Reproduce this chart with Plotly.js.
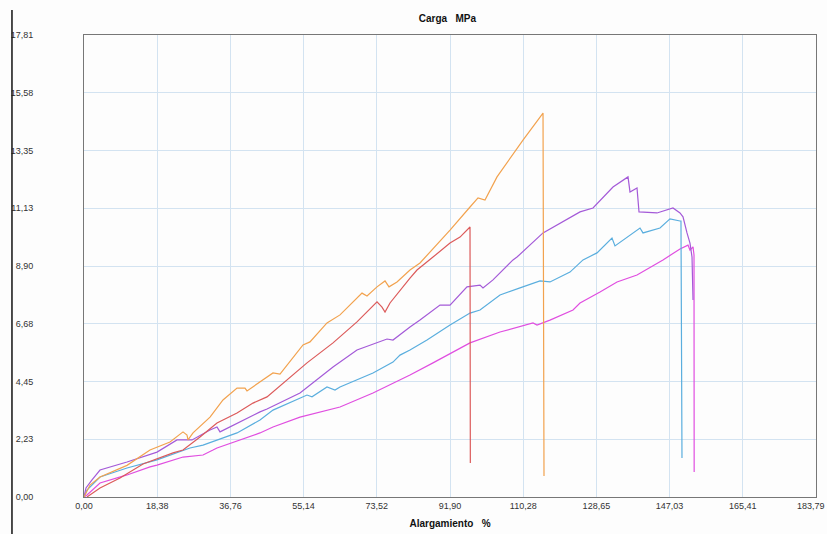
<!DOCTYPE html>
<html>
<head>
<meta charset="utf-8">
<script src="https://cdn.plot.ly/plotly-3.0.1.min.js"></script>
<style>html,body{margin:0;padding:0;background:#fdfdfd;}#chart{width:827px;height:534px;}</style>
</head>
<body>
<div id="chart"></div>
<script>
// Tick values and labels
const xTickVals = [0, 18.38, 36.76, 55.14, 73.52, 91.90, 110.28, 128.65, 147.03, 165.41, 183.79];
const xTickText = ["0,00", "18,38", "36,76", "55,14", "73,52", "91,90", "110,28", "128,65", "147,03", "165,41", "183,79"];
const yTickVals = [0, 2.23, 4.45, 6.68, 8.90, 11.13, 13.35, 15.58, 17.81];
const yTickText = ["0,00", "2,23", "4,45", "6,68", "8,90", "11,13", "13,35", "15,58", "17,81"];

// Series: Alargamiento (%) vs Carga (MPa)
const orangeX = [0, 1.51, 4.02, 10.80, 16.57, 21.59, 24.86, 25.86, 26.11, 27.37, 31.64, 34.90, 38.42, 40.42, 40.93, 44.19, 47.45, 49.21, 54.99, 56.74, 61.01, 64.28, 69.80, 71.06, 73.57, 75.58, 76.58, 78.59, 81.85, 84.36, 91.90, 96.92, 98.93, 100.68, 103.70, 110.22, 115.25, 115.50];
const orangeY = [0, 0.46, 0.77, 1.22, 1.81, 2.12, 2.51, 2.39, 2.20, 2.47, 3.08, 3.74, 4.20, 4.20, 4.09, 4.43, 4.78, 4.74, 5.86, 5.98, 6.71, 7.02, 7.86, 7.75, 8.10, 8.33, 8.10, 8.29, 8.75, 9.02, 10.29, 11.18, 11.53, 11.45, 12.34, 13.76, 14.80, 0.81];

const redX = [0.75, 4.02, 9.04, 14.81, 22.35, 24.86, 29.13, 33.39, 38.42, 42.43, 45.95, 49.96, 54.23, 55.99, 62.52, 68.54, 73.57, 74.82, 75.58, 76.83, 81.85, 83.61, 87.63, 91.90, 94.41, 96.92, 97.00];
const redY = [0, 0.35, 0.73, 1.27, 1.70, 1.81, 2.31, 2.85, 3.24, 3.62, 3.86, 4.39, 4.97, 5.17, 5.94, 6.75, 7.52, 7.32, 7.13, 7.48, 8.44, 8.75, 9.25, 9.79, 10.02, 10.41, 1.31];

const purpleX = [0, 0.50, 2.01, 4.02, 10.80, 18.33, 23.35, 26.11, 27.12, 31.64, 33.39, 34.15, 38.42, 44.19, 45.95, 54.23, 62.52, 68.54, 76.08, 77.58, 81.85, 84.36, 89.38, 91.90, 96.16, 99.43, 100.18, 102.69, 107.71, 108.72, 115.25, 124.54, 127.80, 132.82, 136.59, 137.09, 138.85, 139.35, 143.87, 147.88, 149.64, 150.40, 151.40, 152.15, 152.66, 152.91];
const purpleY = [0, 0.35, 0.66, 1.04, 1.35, 1.73, 2.20, 2.20, 2.20, 2.58, 2.70, 2.51, 2.85, 3.28, 3.39, 4.01, 5.01, 5.67, 6.09, 6.05, 6.55, 6.82, 7.40, 7.40, 8.10, 8.17, 8.06, 8.37, 9.14, 9.25, 10.18, 10.99, 11.14, 11.95, 12.34, 11.76, 11.91, 10.99, 10.95, 11.14, 10.95, 10.80, 10.18, 9.79, 9.25, 7.59];

const blueX = [0, 0.75, 4.02, 10.80, 18.33, 24.10, 26.61, 29.88, 33.39, 38.42, 44.19, 47.45, 55.99, 57.25, 61.01, 63.02, 64.28, 72.56, 77.58, 79.34, 81.85, 86.12, 91.90, 96.92, 99.43, 104.45, 109.47, 114.49, 117.00, 122.02, 125.29, 128.80, 132.57, 133.32, 139.60, 140.35, 144.62, 147.13, 149.64, 149.89, 150.14];
const blueY = [0, 0.27, 0.77, 1.12, 1.43, 1.73, 1.89, 2.00, 2.20, 2.47, 2.97, 3.35, 3.93, 3.86, 4.24, 4.12, 4.24, 4.78, 5.20, 5.47, 5.67, 6.05, 6.63, 7.09, 7.21, 7.79, 8.06, 8.33, 8.29, 8.67, 9.14, 9.41, 9.98, 9.68, 10.37, 10.18, 10.37, 10.72, 10.64, 10.64, 1.50];

const magentaX = [0, 0.75, 4.02, 10.80, 16.57, 18.33, 24.86, 29.88, 32.39, 33.39, 44.19, 47.45, 54.23, 64.28, 72.56, 79.34, 81.85, 87.63, 96.92, 104.45, 112.73, 113.74, 117.00, 122.78, 124.54, 129.56, 133.83, 138.85, 145.37, 149.64, 151.65, 152.15, 152.91, 153.16, 153.20];
const magentaY = [0, 0.08, 0.54, 0.85, 1.16, 1.23, 1.54, 1.62, 1.81, 1.89, 2.47, 2.70, 3.08, 3.47, 4.01, 4.51, 4.70, 5.17, 5.94, 6.36, 6.71, 6.63, 6.82, 7.21, 7.48, 7.90, 8.29, 8.56, 9.14, 9.56, 9.71, 9.52, 9.64, 9.33, 0.96];

const mk = (x, y, c) => ({x: x, y: y, type: 'scatter', mode: 'lines', line: {color: c, width: 1.2}, hoverinfo: 'skip'});
const traces = [
  mk(magentaX, magentaY, '#e04ee0'),
  mk(blueX, blueY, '#5aaede'),
  mk(purpleX, purpleY, '#a45ad8'),
  mk(redX, redY, '#dc5a5a'),
  mk(orangeX, orangeY, '#f2a24e')
];

const nLast = xTickVals.length - 1;
const tickFont = {family: 'Liberation Sans, Arial, sans-serif', size: 9, color: '#333'};
const layout = {
  width: 827, height: 534,
  margin: {l: 84, r: 11, t: 35, b: 37},
  paper_bgcolor: '#fdfdfd', plot_bgcolor: '#fdfdfd',
  showlegend: false,
  title: {text: 'Carga\u00a0\u00a0\u00a0MPa', x: 0.541, xref: 'container', xanchor: 'center', y: 0.966, yanchor: 'middle',
    font: {family: 'Liberation Sans, Arial, sans-serif', size: 10, color: '#111', weight: 'bold'}},
  xaxis: {
    range: [0, 183.79], tickvals: xTickVals.slice(0, nLast), ticktext: xTickText.slice(0, nLast), tickfont: tickFont,
    showgrid: true, gridcolor: '#d3e3f1', gridwidth: 1, zeroline: false,
    showline: true, linecolor: '#777', linewidth: 1, mirror: true, ticks: '',
    title: {text: 'Alargamiento\u00a0\u00a0\u00a0%', standoff: 10,
      font: {family: 'Liberation Sans, Arial, sans-serif', size: 10, color: '#111', weight: 'bold'}}
  },
  yaxis: {
    range: [0, 17.81], tickvals: yTickVals, ticktext: yTickText, tickfont: tickFont,
    showgrid: true, gridcolor: '#d3e3f1', gridwidth: 1, zeroline: false,
    showline: true, linecolor: '#777', linewidth: 1, mirror: true, ticks: '',
    ticklabelstandoff: 48
  },
  annotations: [
    {xref: 'x', yref: 'paper', x: xTickVals[nLast], y: 0, text: xTickText[nLast], showarrow: false,
     xanchor: 'center', yanchor: 'top', xshift: -5, yshift: -2, font: tickFont}
  ],
  shapes: [
    {type: 'line', xref: 'paper', yref: 'paper', x0: -0.0984, x1: -0.0984, y0: 1.054, y1: -0.08,
     line: {color: '#111', width: 1.5}}
  ]
};

Plotly.newPlot('chart', traces, layout, {staticPlot: true, displayModeBar: false});
</script>
</body>
</html>
